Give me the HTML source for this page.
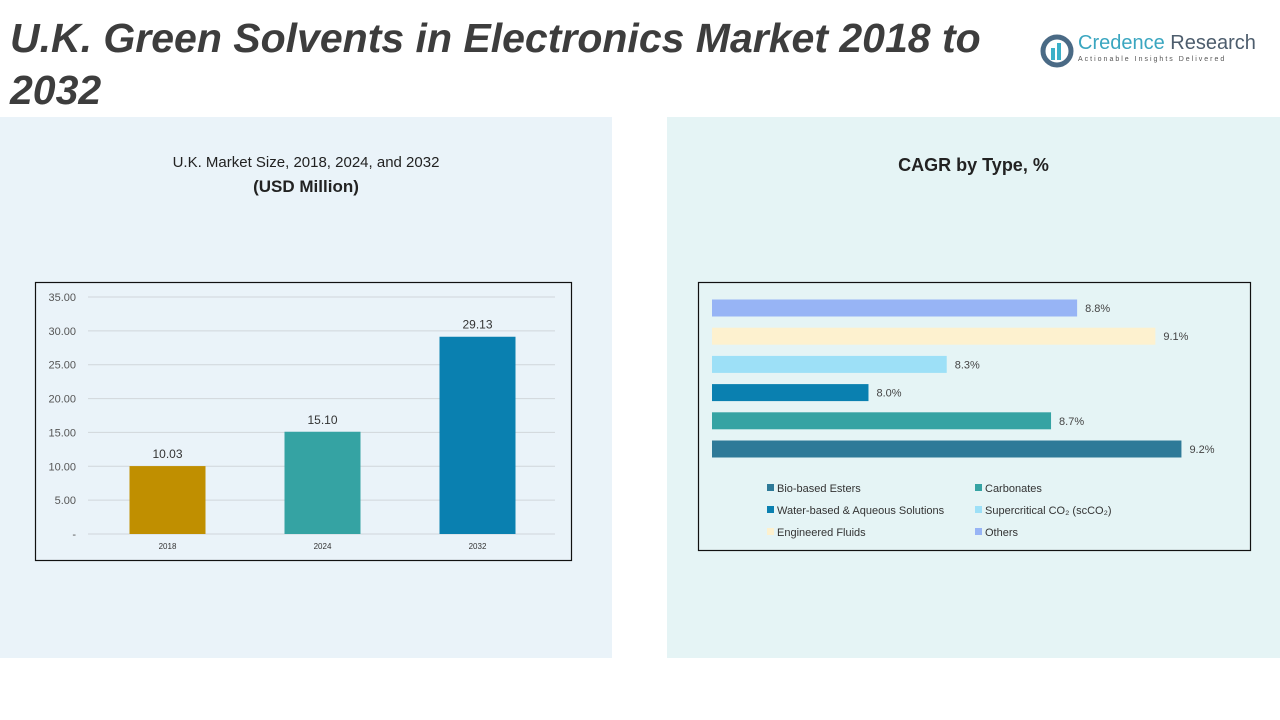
<!DOCTYPE html>
<html><head><meta charset="utf-8"><style>
body{margin:0;width:1280px;height:720px;background:#fff;position:relative;overflow:hidden;font-family:"Liberation Sans",sans-serif}
.abs{position:absolute}
</style></head><body>
<div class="abs" style="left:0;top:117px;width:612px;height:541px;background:#eaf3f9"></div>
<div class="abs" style="left:667px;top:117px;width:613px;height:541px;background:#e5f4f5"></div>
<div class="abs" style="left:10px;top:12px;width:1010px;font-size:41px;font-weight:bold;font-style:italic;color:#3d3d3d;line-height:52px">U.K. Green Solvents in Electronics Market 2018 to 2032</div>
<div class="abs" style="left:1040px;top:32px;width:220px;height:40px">
<svg width="34" height="34" style="position:absolute;left:0;top:2px"><circle cx="17" cy="17" r="14" fill="none" stroke="#4a6a85" stroke-width="5"/><rect x="11" y="14" width="4" height="12" fill="#3bb0c8"/><rect x="17" y="9" width="4" height="17" fill="#3bb0c8"/></svg>
<div class="abs" style="left:38px;top:0;font-size:20px;color:#3aa6c0;white-space:nowrap">Credence <span style="color:#4d5d6d">Research</span></div>
<div class="abs" style="left:38px;top:24px;font-size:7px;letter-spacing:2px;color:#555;white-space:nowrap">Actionable Insights Delivered</div>
</div>
<div class="abs" style="left:0;top:151px;width:612px;text-align:center;font-size:15px;color:#222;line-height:24px">U.K. Market Size, 2018, 2024, and 2032<br><b style="font-size:17px">(USD Million)</b></div>
<div class="abs" style="left:667px;top:155px;width:613px;text-align:center;font-size:18px;font-weight:bold;color:#222">CAGR by Type, %</div>
<svg class="abs" style="left:0;top:0" width="1280" height="720" id="chart">
<rect x="35.5" y="282.5" width="536" height="278" fill="none" stroke="#111" stroke-width="1.2"/>
<rect x="698.5" y="282.5" width="552" height="268" fill="none" stroke="#111" stroke-width="1.2"/>
<g id="g1"></g><g id="g2"></g>
</svg>
<script>
const years=["2018","2024","2032"];
const sizes=[10.03,15.10,29.13];
const yTicks=[0,5,10,15,20,25,30,35];
const types=["Bio-based Esters","Carbonates","Water-based & Aqueous Solutions","Supercritical CO₂ (scCO₂)","Engineered Fluids","Others"];
const cagr=[9.2,8.7,8.0,8.3,9.1,8.8];
const barColors=["#c08f00","#35a3a3","#0a80b0"];
const typeColors=["#2e7a98","#35a3a3","#0a80b0","#9de0f7","#fdf1cf","#97b4f5"];
const NS="http://www.w3.org/2000/svg";
function mk(p,t,a,txt){const e=document.createElementNS(NS,t);for(const k in a)e.setAttribute(k,a[k]);if(txt!==undefined)e.textContent=txt;p.appendChild(e);return e;}
const g1=document.getElementById('g1'),g2=document.getElementById('g2');
const y=v=>534-v*(237/35), x0=90, bw=155;
yTicks.forEach(t=>{
 const l=mk(g1,'line',{x1:88,x2:555,y1:y(t),y2:y(t),stroke:'#d0d6da','stroke-width':1});
 
 const tx=mk(g1,'text',{x:76,y:y(t)+4,'text-anchor':'end','font-size':11,fill:'#555'},t===0?'-':t.toFixed(2));
 
});
years.forEach((c,i)=>{
 const cx=x0+bw*(i+0.5);
 const r=mk(g1,'rect',{x:cx-38,y:y(sizes[i]),width:76,height:y(0)-y(sizes[i]),fill:barColors[i]});
 
 const v=mk(g1,'text',{x:cx,y:y(sizes[i])-8,'text-anchor':'middle','font-size':12,fill:'#333'},sizes[i].toFixed(2));
 
 const xl=mk(g1,'text',{x:cx,y:549,'text-anchor':'middle','font-size':8,fill:'#333'},c);
 
});
const xmin=7.4, xs=v=>712+(v-xmin)*260.8;
types.forEach((t,i)=>{
 const cy=449-i*28.2;
 const r=mk(g2,'rect',{x:712,y:cy-8.5,width:xs(cagr[i])-712,height:17,fill:typeColors[i]});
 
 const v=mk(g2,'text',{x:xs(cagr[i])+8,y:cy+4,'font-size':11,fill:'#444'},cagr[i].toFixed(1)+'%');
 
 const lx=i%2===0?767:975, ly=489+Math.floor(i/2)*22;
 const s=mk(g2,'rect',{x:lx,y:ly-5,width:7,height:7,fill:typeColors[i]});
 
 const lt=mk(g2,'text',{x:lx+10,y:ly+3,'font-size':11,fill:'#333'},t);
 
});
</script>
</body></html>
